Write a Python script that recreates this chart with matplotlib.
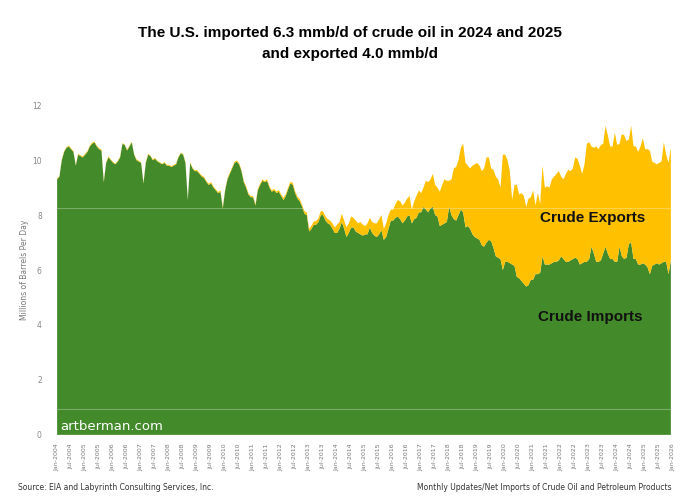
import matplotlib.pyplot as plt
import numpy as np

# monthly, Jan-2004 .. Dec-2025, million barrels per day
imports = np.array([
    9.3, 9.4, 10.0, 10.3, 10.45, 10.5, 10.4, 10.3, 9.8, 10.2, 10.15, 10.1,      # 2004
    10.2, 10.3, 10.5, 10.6, 10.65, 10.5, 10.4, 10.35, 9.2, 9.9, 10.1, 10.0,     # 2005
    9.9, 9.85, 9.95, 10.1, 10.6, 10.55, 10.35, 10.5, 10.65, 10.2, 10.0, 9.95,   # 2006
    9.9, 9.15, 9.9, 10.2, 10.15, 10.0, 10.05, 9.95, 9.9, 9.85, 9.9, 9.8,        # 2007
    9.8, 9.75, 9.8, 9.85, 10.1, 10.25, 10.2, 9.9, 8.55, 9.9, 9.7, 9.6,          # 2008
    9.6, 9.5, 9.4, 9.35, 9.2, 9.1, 9.15, 9.0, 8.9, 8.8, 8.85, 8.25,             # 2009
    8.9, 9.3, 9.5, 9.7, 9.9, 9.95, 9.85, 9.6, 9.2, 9.0, 8.75, 8.65,             # 2010
    8.65, 8.35, 8.9, 9.1, 9.25, 9.2, 9.25, 9.0, 8.85, 8.9, 8.8, 8.85,           # 2011
    8.7, 8.55, 8.7, 8.95, 9.15, 9.1, 8.8, 8.6, 8.5, 8.3, 8.05, 8.0,             # 2012
    7.4, 7.5, 7.65, 7.65, 7.75, 8.0, 8.0, 7.8, 7.7, 7.65, 7.5, 7.35,            # 2013
    7.35, 7.5, 7.75, 7.5, 7.2, 7.35, 7.55, 7.55, 7.4, 7.35, 7.3, 7.25,          # 2014
    7.3, 7.3, 7.55, 7.35, 7.25, 7.2, 7.3, 7.45, 7.1, 7.2, 7.5, 7.8,             # 2015
    7.8, 7.9, 7.95, 7.85, 7.7, 7.8, 7.95, 8.0, 7.7, 7.85, 7.9, 8.1,             # 2016
    8.1, 8.3, 8.2, 8.1, 8.25, 8.3, 8.0, 7.95, 7.6, 7.65, 7.7, 7.75,             # 2017
    8.3, 8.0, 7.85, 7.8, 8.0, 8.2, 8.1, 7.55, 7.6, 7.5, 7.3, 7.2,               # 2018
    7.15, 7.1, 6.9, 6.85, 7.0, 7.1, 7.05, 6.8, 6.5, 6.45, 6.4, 6.0,             # 2019
    6.3, 6.3, 6.25, 6.2, 6.15, 5.75, 5.7, 5.6, 5.5, 5.4, 5.45, 5.65,            # 2020
    5.65, 5.85, 5.85, 5.9, 6.5, 6.2, 6.2, 6.2, 6.25, 6.3, 6.3, 6.35,            # 2021
    6.5, 6.4, 6.3, 6.3, 6.35, 6.4, 6.45, 6.4, 6.2, 6.25, 6.3, 6.3,              # 2022
    6.4, 6.85, 6.6, 6.3, 6.3, 6.35, 6.6, 6.85, 6.6, 6.4, 6.4, 6.3,              # 2023
    6.3, 6.85, 6.5, 6.4, 6.45, 6.95, 7.0, 6.4, 6.4, 6.2, 6.2, 6.25,             # 2024
    6.2, 6.1, 5.85, 6.15, 6.2, 6.25, 6.2, 6.25, 6.3, 6.3, 5.85, 6.35,           # 2025
])

exports = np.array([
    0.03, 0.02, 0.03, 0.03, 0.02, 0.03, 0.03, 0.03, 0.02, 0.03, 0.03, 0.03,     # 2004
    0.03, 0.03, 0.03, 0.04, 0.03, 0.03, 0.03, 0.04, 0.03, 0.03, 0.04, 0.03,     # 2005
    0.03, 0.02, 0.03, 0.03, 0.02, 0.02, 0.03, 0.03, 0.02, 0.02, 0.03, 0.03,     # 2006
    0.02, 0.03, 0.03, 0.03, 0.02, 0.03, 0.03, 0.03, 0.03, 0.02, 0.03, 0.03,     # 2007
    0.03, 0.03, 0.03, 0.03, 0.03, 0.02, 0.03, 0.03, 0.02, 0.03, 0.03, 0.03,     # 2008
    0.04, 0.04, 0.04, 0.04, 0.04, 0.04, 0.05, 0.04, 0.04, 0.04, 0.05, 0.04,     # 2009
    0.04, 0.04, 0.05, 0.04, 0.04, 0.04, 0.04, 0.04, 0.04, 0.05, 0.04, 0.04,     # 2010
    0.04, 0.05, 0.05, 0.05, 0.05, 0.04, 0.05, 0.05, 0.05, 0.05, 0.06, 0.06,     # 2011
    0.06, 0.07, 0.07, 0.06, 0.06, 0.07, 0.07, 0.07, 0.08, 0.07, 0.09, 0.1,      # 2012
    0.1, 0.12, 0.12, 0.13, 0.14, 0.15, 0.13, 0.15, 0.15, 0.15, 0.2, 0.2,        # 2013
    0.3, 0.25, 0.3, 0.3, 0.35, 0.35, 0.4, 0.35, 0.4, 0.35, 0.45, 0.4,           # 2014
    0.3, 0.4, 0.35, 0.4, 0.45, 0.5, 0.55, 0.55, 0.4, 0.5, 0.5, 0.4,             # 2015
    0.4, 0.5, 0.6, 0.65, 0.65, 0.65, 0.65, 0.7, 0.5, 0.65, 0.8, 0.8,            # 2016
    0.7, 0.7, 1.05, 1.1, 1.05, 1.2, 1.1, 1.05, 1.25, 1.45, 1.6, 1.5,            # 2017
    0.95, 1.3, 1.85, 1.95, 2.0, 2.25, 2.5, 2.35, 2.2, 2.2, 2.5, 2.65,           # 2018
    2.75, 2.7, 2.7, 2.85, 3.1, 3.0, 2.65, 2.85, 2.9, 2.85, 2.6, 4.2,            # 2019
    3.9, 3.7, 3.35, 2.35, 2.95, 3.35, 3.05, 3.2, 3.2, 2.9, 3.15, 3.0,           # 2020
    3.25, 2.5, 2.95, 2.5, 3.3, 2.8, 2.85, 2.8, 3.05, 3.1, 3.2, 3.25,            # 2021
    2.9, 2.9, 3.2, 3.35, 3.25, 3.3, 3.65, 3.65, 3.6, 3.25, 3.55, 4.3,           # 2022
    4.25, 3.65, 3.85, 4.2, 4.1, 4.2, 4.0, 4.4, 4.3, 4.1, 4.1, 4.7,              # 2023
    4.25, 3.75, 4.45, 4.5, 4.25, 3.8, 4.25, 4.1, 4.1, 4.1, 4.3, 4.55,           # 2024
    4.2, 4.3, 4.5, 3.8, 3.7, 3.6, 3.7, 3.7, 4.35, 3.9, 4.05, 4.1,               # 2025
])

years = list(range(2004, 2027))
tick_labels = [f"{m}-{y}" for y in years for m in ("Jan", "Jul")][:-1]
y_ticks = [0, 2, 4, 6, 8, 10, 12]

GREEN = '#438a2b'
GOLD = '#ffc000'

fig = plt.figure(figsize=(6.8, 5.01), dpi=100)
ax = fig.add_axes([0.084, 0.132, 0.906, 0.658])

x = np.arange(len(imports))
ax.stackplot(x, imports, exports, colors=[GREEN, GOLD], linewidth=0)

# faint lines across the fill
for lvl in (8.25, 0.95):
    ax.axhline(lvl, color='white', alpha=0.3, lw=0.8)

ax.set_xlim(0, len(imports))
ax.set_ylim(0, 12)
ax.set_xticks(np.arange(0, len(imports) + 1, 6))
ax.set_xticklabels(tick_labels, rotation=90, fontsize=4.5, color='#777777')
ax.set_yticks(y_ticks)
ax.set_yticklabels([str(v) for v in y_ticks], fontsize=5.5, color='#888888')
ax.tick_params(axis='y', length=0, pad=11)
ax.tick_params(axis='x', length=0, pad=6)
for s in ax.spines.values():
    s.set_visible(False)
ax.set_ylabel('Millions of Barrels Per Day', fontsize=5.5, color='#777777')
ax.yaxis.set_label_coords(-0.045, 0.5)

ax.text(1.3, 0.32, 'artberman.com', color='white', fontsize=9.5, va='center', ha='left')
ax.text(229.3, 7.9, 'Crude Exports', fontsize=11, fontweight='bold',
        family='Liberation Sans', ha='center', va='center', color='#111111')
ax.text(228.5, 4.3, 'Crude Imports', fontsize=11, fontweight='bold',
        family='Liberation Sans', ha='center', va='center', color='#111111')

fig.text(0.515, 0.935, 'The U.S. imported 6.3 mmb/d of crude oil in 2024 and 2025',
         ha='center', va='center', fontsize=11, fontweight='bold', family='Liberation Sans')
fig.text(0.515, 0.893, 'and exported 4.0 mmb/d',
         ha='center', va='center', fontsize=11, fontweight='bold', family='Liberation Sans')

fig.text(0.027, 0.027, 'Source: EIA and Labyrinth Consulting Services, Inc.',
         fontsize=5.5, color='#333333', va='center')
fig.text(0.988, 0.027, 'Monthly Updates/Net Imports of Crude Oil and Petroleum Products',
         fontsize=5.5, color='#333333', va='center', ha='right')

fig.savefig('out.png', dpi=100)
